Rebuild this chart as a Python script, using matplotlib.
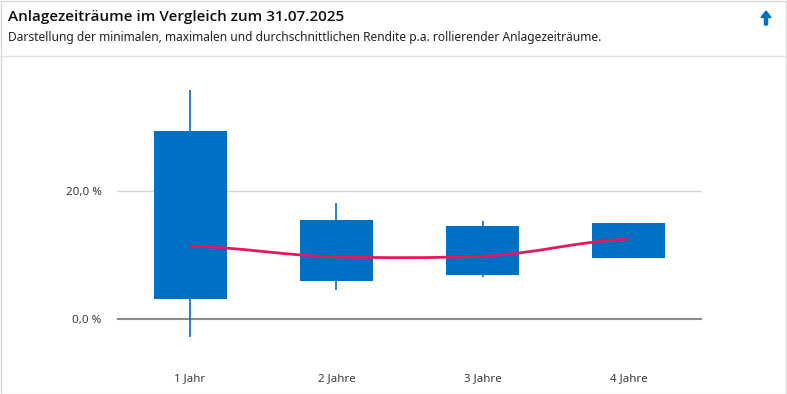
import matplotlib
matplotlib.use("Agg")
import matplotlib.pyplot as plt
from matplotlib.path import Path
from matplotlib.patches import PathPatch, Rectangle, FancyArrow
from matplotlib.transforms import IdentityTransform
import numpy as np

plt.rcParams['font.family'] = ['Noto Sans', 'DejaVu Sans']

categories = ["1 Jahr", "2 Jahre", "3 Jahre", "4 Jahre"]
whisker_high = [35.8, 18.1, 15.3, 15.0]
box_high = [29.3, 15.5, 14.5, 15.0]
box_low = [3.2, 6.0, 6.9, 9.6]
whisker_low = [-2.8, 4.6, 6.6, 9.6]
average = [11.4, 9.7, 9.8, 12.5]
ytick_values = [0, 20]
ytick_labels = ["0,0 %", "20,0 %"]

title = "Anlagezeiträume im Vergleich zum 31.07.2025"
subtitle = "Darstellung der minimalen, maximalen und durchschnittlichen Rendite p.a. rollierender Anlagezeiträume."

W, H = 787, 394
fig = plt.figure(figsize=(W / 100, H / 100), dpi=100)
fig.patch.set_facecolor("white")

# card border and header separator
fig.add_artist(Rectangle((0.5 / W, 0.5 / H), (W - 1.5) / W, (H - 1.5) / H, transform=fig.transFigure,
                         fill=False, edgecolor="#d9d9d9", linewidth=1))
fig.add_artist(plt.Line2D([0, 1], [1 - 55.5 / H, 1 - 55.5 / H], transform=fig.transFigure,
                          color="#e0e0e0", linewidth=1))

fig.text(8 / W, 1 - 17 / H, title, fontsize=11, color="#111111", va="center", ha="left",
         fontweight="semibold", family=["Open Sans", "DejaVu Sans"])
fig.text(8 / W, 1 - 38 / H, subtitle, fontsize=8.6, color="#222222", va="center", ha="left")

BLUE = "#0070c4"
PINK = "#e5185d"

# up arrow icon (pixel coordinates, origin bottom-left)
fig.add_artist(FancyArrow(766, H - 25, 0, 14, width=3, head_width=10, head_length=6.5,
                          length_includes_head=True, color=BLUE, transform=IdentityTransform()))

left, right = 117, 702
top, bottom = 63, 351
ax = fig.add_axes([left / W, 1 - bottom / H, (right - left) / W, (bottom - top) / H])
ax.set_xlim(-0.5, 3.5)
ax.set_ylim(-5, 40)
for s in ax.spines.values():
    s.set_visible(False)

x = np.arange(len(categories))
ax.axhline(20, color="#d4d4d4", linewidth=1, zorder=0)
ax.axhline(0, color="#8a8a8a", linewidth=1.5, zorder=0)

ax.vlines(x, whisker_low, whisker_high, color=BLUE, linewidth=1.2, zorder=2)
ax.bar(x, np.array(box_high) - np.array(box_low), bottom=box_low, width=0.5,
       color=BLUE, zorder=3)

# smooth average line (cubic Bezier through the data points)
pts = np.column_stack([x, average]).astype(float)
verts = [tuple(pts[0])]
codes = [Path.MOVETO]
for i in range(len(pts) - 1):
    p0 = pts[i - 1] if i > 0 else pts[i]
    p1 = pts[i]
    p2 = pts[i + 1]
    p3 = pts[i + 2] if i + 2 < len(pts) else pts[i + 1]
    c1 = p1 + (p2 - p0) / 10
    c2 = p2 - (p3 - p1) / 10
    c1[0] = p1[0] + (p2[0] - p1[0]) / 3
    c2[0] = p2[0] - (p2[0] - p1[0]) / 3
    verts += [tuple(c1), tuple(c2), tuple(p2)]
    codes += [Path.CURVE4] * 3
ax.add_patch(PathPatch(Path(verts, codes), facecolor="none", edgecolor=PINK, linewidth=2, zorder=4))

ax.set_yticks(ytick_values)
ax.set_yticklabels(ytick_labels)
ax.set_xticks(x)
ax.set_xticklabels(categories)
ax.tick_params(axis="both", length=0, labelsize=8.3, labelcolor="#3a3a3a")
ax.tick_params(axis="y", pad=11)
ax.tick_params(axis="x", pad=16)

fig.savefig("out.png", dpi=100, facecolor="white")
